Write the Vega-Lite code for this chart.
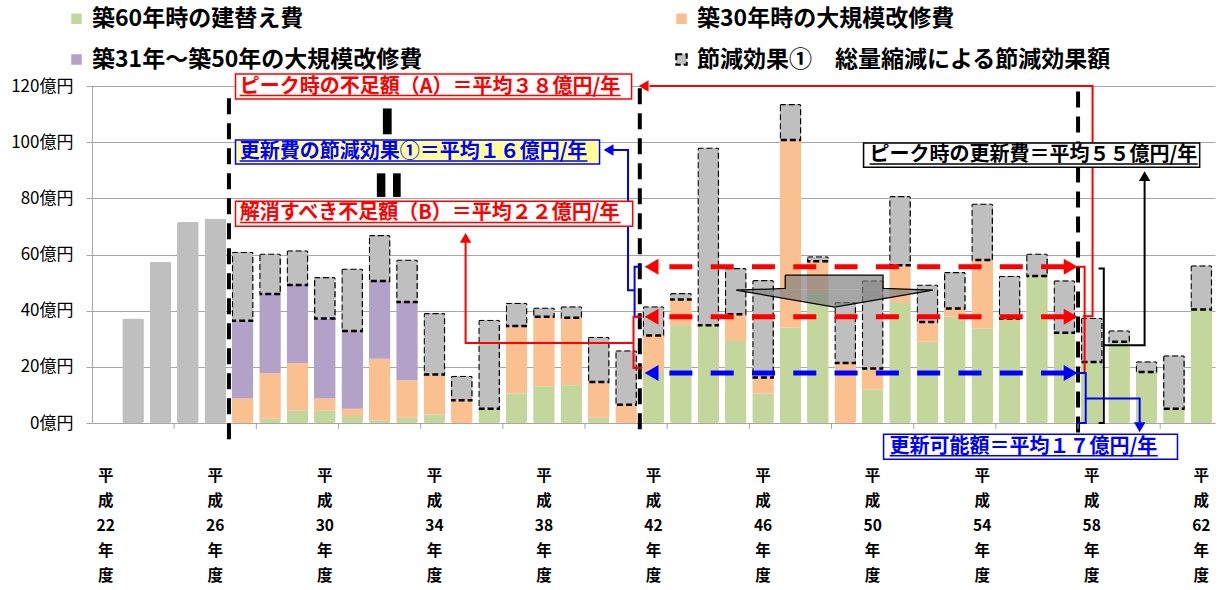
{
  "$schema": "https://vega.github.io/schema/vega-lite/v6.json",
  "width": 1123,
  "height": 337,
  "autosize": {"type": "none"},
  "padding": {"left": 92, "top": 86, "right": 7, "bottom": 167},
  "background": "white",
  "config": {
    "view": {"stroke": null},
    "font": "Noto Sans CJK JP",
    "axis": {"labelFont": "Noto Sans CJK JP"},
    "axisY": {"grid": true, "gridColor": "#a6a6a6", "domainColor": "#a6a6a6", "tickColor": "#a6a6a6", "tickSize": 6, "labelFontSize": 17, "labelColor": "#000000", "labelPadding": 13},
    "legend": {"labelFont": "Noto Sans CJK JP"}
  },
  "datasets": {
    "past": [
      {"year": 23, "v": 37.2}, {"year": 24, "v": 57.4}, {"year": 25, "v": 71.6}, {"year": 26, "v": 72.8}
    ],
    "bars": [
      {"year": 27, "series": "築30年時の大規模改修費", "k": 2, "v": 8.7},
      {"year": 27, "series": "築31年～築50年の大規模改修費", "k": 3, "v": 27.7},
      {"year": 27, "series": "節減効果①　総量縮減による節減効果額", "k": 4, "v": 24.6},
      {"year": 28, "series": "築60年時の建替え費", "k": 1, "v": 1.5},
      {"year": 28, "series": "築30年時の大規模改修費", "k": 2, "v": 16.3},
      {"year": 28, "series": "築31年～築50年の大規模改修費", "k": 3, "v": 28.1},
      {"year": 28, "series": "節減効果①　総量縮減による節減効果額", "k": 4, "v": 14.5},
      {"year": 29, "series": "築60年時の建替え費", "k": 1, "v": 4.5},
      {"year": 29, "series": "築30年時の大規模改修費", "k": 2, "v": 16.9},
      {"year": 29, "series": "築31年～築50年の大規模改修費", "k": 3, "v": 27.7},
      {"year": 29, "series": "節減効果①　総量縮減による節減効果額", "k": 4, "v": 12.4},
      {"year": 30, "series": "築60年時の建替え費", "k": 1, "v": 4.5},
      {"year": 30, "series": "築30年時の大規模改修費", "k": 2, "v": 4.2},
      {"year": 30, "series": "築31年～築50年の大規模改修費", "k": 3, "v": 28.5},
      {"year": 30, "series": "節減効果①　総量縮減による節減効果額", "k": 4, "v": 14.8},
      {"year": 31, "series": "築60年時の建替え費", "k": 1, "v": 2.5},
      {"year": 31, "series": "築30年時の大規模改修費", "k": 2, "v": 2.6},
      {"year": 31, "series": "築31年～築50年の大規模改修費", "k": 3, "v": 27.7},
      {"year": 31, "series": "節減効果①　総量縮減による節減効果額", "k": 4, "v": 22.2},
      {"year": 32, "series": "築60年時の建替え費", "k": 1, "v": 1.0},
      {"year": 32, "series": "築30年時の大規模改修費", "k": 2, "v": 21.9},
      {"year": 32, "series": "築31年～築50年の大規模改修費", "k": 3, "v": 27.7},
      {"year": 32, "series": "節減効果①　総量縮減による節減効果額", "k": 4, "v": 16.3},
      {"year": 33, "series": "築60年時の建替え費", "k": 1, "v": 1.9},
      {"year": 33, "series": "築30年時の大規模改修費", "k": 2, "v": 13.3},
      {"year": 33, "series": "築31年～築50年の大規模改修費", "k": 3, "v": 27.9},
      {"year": 33, "series": "節減効果①　総量縮減による節減効果額", "k": 4, "v": 15.1},
      {"year": 34, "series": "築60年時の建替え費", "k": 1, "v": 3.0},
      {"year": 34, "series": "築30年時の大規模改修費", "k": 2, "v": 14.3},
      {"year": 34, "series": "節減効果①　総量縮減による節減効果額", "k": 4, "v": 21.9},
      {"year": 35, "series": "築30年時の大規模改修費", "k": 2, "v": 8.1},
      {"year": 35, "series": "節減効果①　総量縮減による節減効果額", "k": 4, "v": 8.7},
      {"year": 36, "series": "築60年時の建替え費", "k": 1, "v": 5.1},
      {"year": 36, "series": "節減効果①　総量縮減による節減効果額", "k": 4, "v": 31.7},
      {"year": 37, "series": "築60年時の建替え費", "k": 1, "v": 10.5},
      {"year": 37, "series": "築30年時の大規模改修費", "k": 2, "v": 24.0},
      {"year": 37, "series": "節減効果①　総量縮減による節減効果額", "k": 4, "v": 8.3},
      {"year": 38, "series": "築60年時の建替え費", "k": 1, "v": 13.1},
      {"year": 38, "series": "築30年時の大規模改修費", "k": 2, "v": 24.7},
      {"year": 38, "series": "節減効果①　総量縮減による節減効果額", "k": 4, "v": 3.3},
      {"year": 39, "series": "築60年時の建替え費", "k": 1, "v": 13.4},
      {"year": 39, "series": "築30年時の大規模改修費", "k": 2, "v": 24.1},
      {"year": 39, "series": "節減効果①　総量縮減による節減効果額", "k": 4, "v": 4.1},
      {"year": 40, "series": "築60年時の建替え費", "k": 1, "v": 1.9},
      {"year": 40, "series": "築30年時の大規模改修費", "k": 2, "v": 12.7},
      {"year": 40, "series": "節減効果①　総量縮減による節減効果額", "k": 4, "v": 16.1},
      {"year": 41, "series": "築30年時の大規模改修費", "k": 2, "v": 6.5},
      {"year": 41, "series": "節減効果①　総量縮減による節減効果額", "k": 4, "v": 19.4},
      {"year": 42, "series": "築60年時の建替え費", "k": 1, "v": 18.2},
      {"year": 42, "series": "築30年時の大規模改修費", "k": 2, "v": 13.0},
      {"year": 42, "series": "節減効果①　総量縮減による節減効果額", "k": 4, "v": 10.4},
      {"year": 43, "series": "築60年時の建替え費", "k": 1, "v": 34.8},
      {"year": 43, "series": "築30年時の大規模改修費", "k": 2, "v": 9.2},
      {"year": 43, "series": "節減効果①　総量縮減による節減効果額", "k": 4, "v": 2.3},
      {"year": 44, "series": "築60年時の建替え費", "k": 1, "v": 34.8},
      {"year": 44, "series": "節減効果①　総量縮減による節減効果額", "k": 4, "v": 63.3},
      {"year": 45, "series": "築60年時の建替え費", "k": 1, "v": 29.2},
      {"year": 45, "series": "築30年時の大規模改修費", "k": 2, "v": 9.5},
      {"year": 45, "series": "節減効果①　総量縮減による節減効果額", "k": 4, "v": 16.5},
      {"year": 46, "series": "築60年時の建替え費", "k": 1, "v": 10.5},
      {"year": 46, "series": "築30年時の大規模改修費", "k": 2, "v": 5.7},
      {"year": 46, "series": "節減効果①　総量縮減による節減効果額", "k": 4, "v": 34.7},
      {"year": 47, "series": "築60年時の建替え費", "k": 1, "v": 34.0},
      {"year": 47, "series": "築30年時の大規模改修費", "k": 2, "v": 66.8},
      {"year": 47, "series": "節減効果①　総量縮減による節減効果額", "k": 4, "v": 12.8},
      {"year": 48, "series": "築60年時の建替え費", "k": 1, "v": 46.7},
      {"year": 48, "series": "築30年時の大規模改修費", "k": 2, "v": 10.9},
      {"year": 48, "series": "節減効果①　総量縮減による節減効果額", "k": 4, "v": 1.8},
      {"year": 49, "series": "築30年時の大規模改修費", "k": 2, "v": 21.4},
      {"year": 49, "series": "節減効果①　総量縮減による節減効果額", "k": 4, "v": 21.7},
      {"year": 50, "series": "築60年時の建替え費", "k": 1, "v": 11.9},
      {"year": 50, "series": "築30年時の大規模改修費", "k": 2, "v": 7.5},
      {"year": 50, "series": "節減効果①　総量縮減による節減効果額", "k": 4, "v": 31.4},
      {"year": 51, "series": "築60年時の建替え費", "k": 1, "v": 43.1},
      {"year": 51, "series": "築30年時の大規模改修費", "k": 2, "v": 13.1},
      {"year": 51, "series": "節減効果①　総量縮減による節減効果額", "k": 4, "v": 24.6},
      {"year": 52, "series": "築60年時の建替え費", "k": 1, "v": 28.9},
      {"year": 52, "series": "築30年時の大規模改修費", "k": 2, "v": 7.1},
      {"year": 52, "series": "節減効果①　総量縮減による節減効果額", "k": 4, "v": 13.3},
      {"year": 53, "series": "築60年時の建替え費", "k": 1, "v": 37.8},
      {"year": 53, "series": "築30年時の大規模改修費", "k": 2, "v": 3.0},
      {"year": 53, "series": "節減効果①　総量縮減による節減効果額", "k": 4, "v": 13.0},
      {"year": 54, "series": "築60年時の建替え費", "k": 1, "v": 33.6},
      {"year": 54, "series": "築30年時の大規模改修費", "k": 2, "v": 24.4},
      {"year": 54, "series": "節減効果①　総量縮減による節減効果額", "k": 4, "v": 20.2},
      {"year": 55, "series": "築60年時の建替え費", "k": 1, "v": 37.2},
      {"year": 55, "series": "節減効果①　総量縮減による節減効果額", "k": 4, "v": 15.2},
      {"year": 56, "series": "築60年時の建替え費", "k": 1, "v": 52.3},
      {"year": 56, "series": "節減効果①　総量縮減による節減効果額", "k": 4, "v": 8.1},
      {"year": 57, "series": "築60年時の建替え費", "k": 1, "v": 32.1},
      {"year": 57, "series": "節減効果①　総量縮減による節減効果額", "k": 4, "v": 18.7},
      {"year": 58, "series": "築60年時の建替え費", "k": 1, "v": 21.7},
      {"year": 58, "series": "節減効果①　総量縮減による節減効果額", "k": 4, "v": 15.8},
      {"year": 59, "series": "築60年時の建替え費", "k": 1, "v": 28.9},
      {"year": 59, "series": "節減効果①　総量縮減による節減効果額", "k": 4, "v": 4.1},
      {"year": 60, "series": "築60年時の建替え費", "k": 1, "v": 18.2},
      {"year": 60, "series": "節減効果①　総量縮減による節減効果額", "k": 4, "v": 3.8},
      {"year": 61, "series": "築60年時の建替え費", "k": 1, "v": 5.1},
      {"year": 61, "series": "節減効果①　総量縮減による節減効果額", "k": 4, "v": 19.0},
      {"year": 62, "series": "築60年時の建替え費", "k": 1, "v": 40.4},
      {"year": 62, "series": "節減効果①　総量縮減による節減効果額", "k": 4, "v": 15.8}
    ],
    "tri": [
      {"px": 45.02, "v": 47.6, "v2": 47.3},
      {"px": 48.61, "v": 47.6, "v2": 41.3},
      {"px": 52.2, "v": 47.6, "v2": 47.3}
    ],
    "calloutRect": [{"px": 46.81, "px2": 50.38, "v": 52.64, "v2": 47.6}],
    "outline": [
      {"i": 0, "px": 46.81, "v": 52.64}, {"i": 1, "px": 50.38, "v": 52.64},
      {"i": 2, "px": 50.38, "v": 47.9}, {"i": 3, "px": 52.2, "v": 47.3},
      {"i": 4, "px": 48.61, "v": 41.3}, {"i": 5, "px": 45.02, "v": 47.3},
      {"i": 6, "px": 46.81, "v": 47.9}, {"i": 7, "px": 46.81, "v": 52.64}
    ],
    "vlines": [
      {"px": 26.5, "v": 115.6, "v2": -7.2},
      {"px": 41.5, "v": 119.2, "v2": -4.4},
      {"px": 57.5, "v": 118.0, "v2": -3.7}
    ],
    "ticks": [
      {"px": 24.5}, {"px": 27.5}, {"px": 30.5}, {"px": 33.5}, {"px": 36.5}, {"px": 39.5}, {"px": 42.5},
      {"px": 45.5}, {"px": 48.5}, {"px": 51.5}, {"px": 54.5}, {"px": 57.5}, {"px": 60.5}
    ],
    "hlines": [
      {"g": "A", "px": 41.93, "px2": 57.23, "v": 55.6},
      {"g": "B", "px": 41.93, "px2": 57.23, "v": 37.8},
      {"g": "V", "px": 41.93, "px2": 57.23, "v": 17.8}
    ],
    "bigArrows": [
      {"g": "A", "dir": "left", "px": 41.93, "v": 55.6}, {"g": "A", "dir": "right", "px": 57.23, "v": 55.6},
      {"g": "B", "dir": "left", "px": 41.93, "v": 37.8}, {"g": "B", "dir": "right", "px": 57.23, "v": 37.8},
      {"g": "V", "dir": "left", "px": 41.93, "v": 17.8}, {"g": "V", "dir": "right", "px": 57.23, "v": 17.8}
    ],
    "smallArrows": [
      {"g": "A", "dir": "left", "px": 41.64, "v": 120.0},
      {"g": "S", "dir": "left", "px": 40.36, "v": 97.2},
      {"g": "B", "dir": "up", "px": 35.14, "v": 65.9},
      {"g": "P", "dir": "up", "px": 59.93, "v": 87.9},
      {"g": "V", "dir": "down", "px": 59.75, "v": -1.5}
    ],
    "connectors": [
      {"path": "a1", "g": "A", "i": 0, "px": 41.86, "v": 120.0},
      {"path": "a1", "g": "A", "i": 1, "px": 58.03, "v": 120.0},
      {"path": "a1", "g": "A", "i": 2, "px": 58.03, "v": 38.0},
      {"path": "a1", "g": "A", "i": 3, "px": 57.67, "v": 38.0},
      {"path": "a2", "g": "A", "i": 0, "px": 57.45, "v": 55.6},
      {"path": "a2", "g": "A", "i": 1, "px": 57.74, "v": 55.6},
      {"path": "a2", "g": "A", "i": 2, "px": 57.74, "v": 17.8},
      {"path": "a2", "g": "A", "i": 3, "px": 57.45, "v": 17.8},
      {"path": "s1", "g": "S", "i": 0, "px": 41.55, "v": 55.6},
      {"path": "s1", "g": "S", "i": 1, "px": 41.31, "v": 55.6},
      {"path": "s1", "g": "S", "i": 2, "px": 41.31, "v": 37.8},
      {"path": "s1", "g": "S", "i": 3, "px": 41.55, "v": 37.8},
      {"path": "s2", "g": "S", "i": 0, "px": 41.31, "v": 47.3},
      {"path": "s2", "g": "S", "i": 1, "px": 41.07, "v": 47.3},
      {"path": "s2", "g": "S", "i": 2, "px": 41.07, "v": 97.2},
      {"path": "s2", "g": "S", "i": 3, "px": 40.5, "v": 97.2},
      {"path": "b1", "g": "B", "i": 0, "px": 41.59, "v": 37.8},
      {"path": "b1", "g": "B", "i": 1, "px": 41.27, "v": 37.8},
      {"path": "b1", "g": "B", "i": 2, "px": 41.27, "v": 19.6},
      {"path": "b1", "g": "B", "i": 3, "px": 41.59, "v": 19.6},
      {"path": "b2", "g": "B", "i": 0, "px": 41.27, "v": 28.5},
      {"path": "b2", "g": "B", "i": 1, "px": 35.14, "v": 28.5},
      {"path": "b2", "g": "B", "i": 2, "px": 35.14, "v": 65.0},
      {"path": "p1", "g": "P", "i": 0, "px": 58.25, "v": 55.0},
      {"path": "p1", "g": "P", "i": 1, "px": 58.44, "v": 55.0},
      {"path": "p1", "g": "P", "i": 2, "px": 58.44, "v": 0.0},
      {"path": "p1", "g": "P", "i": 3, "px": 58.25, "v": 0.0},
      {"path": "p2", "g": "P", "i": 0, "px": 58.44, "v": 27.7},
      {"path": "p2", "g": "P", "i": 1, "px": 59.93, "v": 27.7},
      {"path": "p2", "g": "P", "i": 2, "px": 59.93, "v": 87.0},
      {"path": "v1", "g": "V", "i": 0, "px": 57.45, "v": 17.8},
      {"path": "v1", "g": "V", "i": 1, "px": 57.78, "v": 17.8},
      {"path": "v1", "g": "V", "i": 2, "px": 57.78, "v": 0.0},
      {"path": "v1", "g": "V", "i": 3, "px": 57.45, "v": 0.0},
      {"path": "v2", "g": "V", "i": 0, "px": 57.78, "v": 8.7},
      {"path": "v2", "g": "V", "i": 1, "px": 59.75, "v": 8.7},
      {"path": "v2", "g": "V", "i": 2, "px": 59.75, "v": -1.0}
    ],
    "signs": [
      {"px": 32.12, "px2": 32.44, "v": 112.0, "v2": 102.8},
      {"px": 31.9, "px2": 32.21, "v": 88.9, "v2": 80.5},
      {"px": 32.49, "px2": 32.77, "v": 88.9, "v2": 80.5}
    ],
    "boxes": [
      {"g": "A", "px": 26.74, "px2": 41.2, "v": 124.3, "v2": 115.4},
      {"g": "S", "px": 26.74, "px2": 40.03, "v": 100.8, "v2": 92.2},
      {"g": "B", "px": 26.74, "px2": 41.24, "v": 79.0, "v2": 70.1},
      {"g": "P", "px": 49.67, "px2": 61.94, "v": 99.7, "v2": 91.1},
      {"g": "V", "px": 50.4, "px2": 61.13, "v": -4.0, "v2": -12.9}
    ],
    "texts": [
      {"g": "A", "t": "ピーク時の不足額（A）＝平均３８億円/年", "px": 26.89, "v": 119.8, "px2": 40.8, "uv": 116.6},
      {"g": "S", "t": "更新費の節減効果①＝平均１６億円/年", "px": 26.89, "v": 96.5, "px2": 39.59, "uv": 93.3},
      {"g": "B", "t": "解消すべき不足額（B）＝平均２２億円/年", "px": 26.89, "v": 74.6, "px2": 40.8, "uv": 71.4},
      {"g": "P", "t": "ピーク時の更新費＝平均５５億円/年", "px": 49.89, "v": 95.4, "px2": 61.87, "uv": 92.2},
      {"g": "V", "t": "更新可能額＝平均１７億円/年", "px": 50.62, "v": -8.5, "px2": 60.41, "uv": -11.7}
    ]
  },
  "layer": [
    {
      "data": {"name": "past"},
      "mark": {"type": "bar", "color": "#bfbfbf", "cornerRadius": 2},
      "encoding": {
        "x": {
          "field": "year", "type": "ordinal",
          "scale": {"domain": [22,23,24,25,26,27,28,29,30,31,32,33,34,35,36,37,38,39,40,41,42,43,44,45,46,47,48,49,50,51,52,53,54,55,56,57,58,59,60,61,62], "paddingInner": 0.21, "paddingOuter": 0.105},
          "axis": {
            "title": null, "ticks": false, "domain": false, "grid": false, "labelAngle": 0,
            "labelExpr": "(datum.value - 22) % 4 == 0 ? ['平', '成', datum.label, '年', '度'] : ''",
            "labelFontSize": 15.5, "labelFontWeight": "bold", "labelColor": "#000000",
            "labelLineHeight": 25, "labelPadding": 45, "labelOverlap": false, "labelBaseline": "top"
          }
        },
        "y": {
          "field": "v", "type": "quantitative", "title": null,
          "scale": {"domain": [0, 120], "nice": false},
          "axis": {
            "title": null, "values": [0, 20, 40, 60, 80, 100, 120],
            "labelExpr": "datum.value + '億円'",
            "labelFontSize": 17, "labelColor": "#000000", "labelPadding": 13,
            "grid": true, "gridColor": "#a6a6a6", "gridWidth": 1,
            "domain": true, "domainColor": "#a6a6a6", "ticks": true, "tickColor": "#a6a6a6", "tickSize": 6
          }
        }
      }
    },
    {
      "data": {"name": "bars"},
      "mark": {"type": "bar", "strokeWidth": 2.5, "cornerRadius": 2},
      "encoding": {
        "x": {
          "field": "year", "type": "ordinal",
          "scale": {"domain": [22,23,24,25,26,27,28,29,30,31,32,33,34,35,36,37,38,39,40,41,42,43,44,45,46,47,48,49,50,51,52,53,54,55,56,57,58,59,60,61,62], "paddingInner": 0.21, "paddingOuter": 0.105},
          "axis": null
        },
        "y": {"field": "v", "type": "quantitative", "title": null, "stack": "zero", "scale": {"domain": [0, 120], "nice": false}},
        "order": {"field": "k", "type": "quantitative"},
        "color": {
          "field": "series", "type": "nominal", "title": null,
          "scale": {"domain": ["築60年時の建替え費", "築30年時の大規模改修費", "築31年～築50年の大規模改修費", "節減効果①　総量縮減による節減効果額"], "range": ["#c3d69b", "#fac090", "#b3a2c7", "#bfbfbf"]},
          "legend": {"orient": "none", "direction": "horizontal", "legendX": -27, "legendY": -79, "columns": 2, "columnPadding": 247, "rowPadding": 17, "labelFontSize": 23, "labelFontWeight": "bold", "labelColor": "#000000", "labelLimit": 700, "symbolType": "square", "symbolSize": 110, "symbolStrokeWidth": 2, "labelOffset": 4, "padding": 0}
        },
        "stroke": {
          "field": "series", "type": "nominal", "title": null,
          "scale": {"domain": ["築60年時の建替え費", "築30年時の大規模改修費", "築31年～築50年の大規模改修費", "節減効果①　総量縮減による節減効果額"], "range": ["rgba(0,0,0,0)", "rgba(0,0,0,0)", "rgba(0,0,0,0)", "#000000"]},
          "legend": {"orient": "none", "direction": "horizontal", "legendX": -27, "legendY": -79, "columns": 2, "columnPadding": 247, "rowPadding": 17, "labelFontSize": 23, "labelFontWeight": "bold", "labelColor": "#000000", "labelLimit": 700, "symbolType": "square", "symbolSize": 110, "symbolStrokeWidth": 2, "labelOffset": 4, "padding": 0}
        },
        "strokeDash": {
          "field": "series", "type": "nominal", "title": null,
          "scale": {"domain": ["築60年時の建替え費", "築30年時の大規模改修費", "築31年～築50年の大規模改修費", "節減効果①　総量縮減による節減効果額"], "range": [[1, 0], [1, 0], [1, 0], [6, 3]]},
          "legend": {"orient": "none", "direction": "horizontal", "legendX": -27, "legendY": -79, "columns": 2, "columnPadding": 247, "rowPadding": 17, "labelFontSize": 23, "labelFontWeight": "bold", "labelColor": "#000000", "labelLimit": 700, "symbolType": "square", "symbolSize": 110, "symbolStrokeWidth": 2, "labelOffset": 4, "padding": 0}
        }
      }
    },
    {
      "data": {"name": "tri"},
      "mark": {"type": "area", "color": "#808080", "opacity": 0.7},
      "encoding": {
        "x": {"field": "px", "type": "quantitative", "scale": {"domain": [21.5, 62.5], "nice": false, "zero": false}, "axis": null},
        "y": {"field": "v", "type": "quantitative", "title": null, "scale": {"domain": [0, 120], "nice": false}},
        "y2": {"field": "v2"}
      }
    },
    {
      "data": {"name": "calloutRect"},
      "mark": {"type": "rect", "color": "#808080", "opacity": 0.7},
      "encoding": {
        "x": {"field": "px", "type": "quantitative", "scale": {"domain": [21.5, 62.5], "nice": false, "zero": false}, "axis": null},
        "x2": {"field": "px2"},
        "y": {"field": "v", "type": "quantitative", "title": null, "scale": {"domain": [0, 120], "nice": false}},
        "y2": {"field": "v2"}
      }
    },
    {
      "data": {"name": "outline"},
      "mark": {"type": "line", "color": "#000000", "strokeWidth": 1.3},
      "encoding": {
        "x": {"field": "px", "type": "quantitative", "scale": {"domain": [21.5, 62.5], "nice": false, "zero": false}, "axis": null},
        "y": {"field": "v", "type": "quantitative", "title": null, "scale": {"domain": [0, 120], "nice": false}},
        "order": {"field": "i", "type": "quantitative"}
      }
    },
    {
      "data": {"name": "vlines"},
      "mark": {"type": "rule", "color": "#000000", "strokeWidth": 4, "strokeDash": [16, 9]},
      "encoding": {
        "x": {"field": "px", "type": "quantitative", "scale": {"domain": [21.5, 62.5], "nice": false, "zero": false}, "axis": null},
        "y": {"field": "v", "type": "quantitative", "title": null, "scale": {"domain": [0, 120], "nice": false}},
        "y2": {"field": "v2"}
      }
    },
    {
      "data": {"name": "ticks"},
      "mark": {"type": "rule", "color": "#a6a6a6", "strokeWidth": 1},
      "encoding": {
        "x": {"field": "px", "type": "quantitative", "scale": {"domain": [21.5, 62.5], "nice": false, "zero": false}, "axis": null},
        "y": {"datum": 0, "type": "quantitative", "title": null, "scale": {"domain": [0, 120], "nice": false}},
        "y2": {"datum": -2.1}
      }
    },
    {
      "data": {"name": "hlines"},
      "mark": {"type": "rule", "strokeWidth": 5, "strokeDash": [23, 18.3], "strokeDashOffset": 23.5},
      "encoding": {
        "x": {"field": "px", "type": "quantitative", "scale": {"domain": [21.5, 62.5], "nice": false, "zero": false}, "axis": null},
        "x2": {"field": "px2"},
        "y": {"field": "v", "type": "quantitative", "title": null, "scale": {"domain": [0, 120], "nice": false}},
        "color": {"field": "g", "type": "nominal", "scale": {"domain": ["A", "S", "B", "P", "V"], "range": ["#ff0000", "#0000ff", "#ff0000", "#000000", "#0000ff"]}, "legend": null}
      }
    },
    {
      "data": {"name": "connectors"},
      "mark": {"type": "line", "strokeWidth": 2},
      "encoding": {
        "x": {"field": "px", "type": "quantitative", "scale": {"domain": [21.5, 62.5], "nice": false, "zero": false}, "axis": null},
        "y": {"field": "v", "type": "quantitative", "title": null, "scale": {"domain": [0, 120], "nice": false}},
        "detail": {"field": "path", "type": "nominal"},
        "order": {"field": "i", "type": "quantitative"},
        "color": {"field": "g", "type": "nominal", "scale": {"domain": ["A", "S", "B", "P", "V"], "range": ["#ff0000", "#0000ff", "#ff0000", "#000000", "#0000ff"]}, "legend": null}
      }
    },
    {
      "data": {"name": "bigArrows"},
      "mark": {"type": "point", "filled": true, "size": 256, "opacity": 1},
      "encoding": {
        "x": {"field": "px", "type": "quantitative", "scale": {"domain": [21.5, 62.5], "nice": false, "zero": false}, "axis": null},
        "y": {"field": "v", "type": "quantitative", "title": null, "scale": {"domain": [0, 120], "nice": false}},
        "shape": {"field": "dir", "type": "nominal", "scale": {"domain": ["left", "right", "up", "down"], "range": ["triangle-left", "triangle-right", "triangle-up", "triangle-down"]}, "legend": null},
        "color": {"field": "g", "type": "nominal", "scale": {"domain": ["A", "S", "B", "P", "V"], "range": ["#ff0000", "#0000ff", "#ff0000", "#000000", "#0000ff"]}, "legend": null}
      }
    },
    {
      "data": {"name": "smallArrows"},
      "mark": {"type": "point", "filled": true, "size": 130, "opacity": 1},
      "encoding": {
        "x": {"field": "px", "type": "quantitative", "scale": {"domain": [21.5, 62.5], "nice": false, "zero": false}, "axis": null},
        "y": {"field": "v", "type": "quantitative", "title": null, "scale": {"domain": [0, 120], "nice": false}},
        "shape": {"field": "dir", "type": "nominal", "scale": {"domain": ["left", "right", "up", "down"], "range": ["triangle-left", "triangle-right", "triangle-up", "triangle-down"]}, "legend": null},
        "color": {"field": "g", "type": "nominal", "scale": {"domain": ["A", "S", "B", "P", "V"], "range": ["#ff0000", "#0000ff", "#ff0000", "#000000", "#0000ff"]}, "legend": null}
      }
    },
    {
      "data": {"name": "signs"},
      "mark": {"type": "rect", "color": "#000000"},
      "encoding": {
        "x": {"field": "px", "type": "quantitative", "scale": {"domain": [21.5, 62.5], "nice": false, "zero": false}, "axis": null},
        "x2": {"field": "px2"},
        "y": {"field": "v", "type": "quantitative", "title": null, "scale": {"domain": [0, 120], "nice": false}},
        "y2": {"field": "v2"}
      }
    },
    {
      "data": {"name": "boxes"},
      "mark": {"type": "rect", "strokeWidth": 1.5},
      "encoding": {
        "x": {"field": "px", "type": "quantitative", "scale": {"domain": [21.5, 62.5], "nice": false, "zero": false}, "axis": null},
        "x2": {"field": "px2"},
        "y": {"field": "v", "type": "quantitative", "title": null, "scale": {"domain": [0, 120], "nice": false}},
        "y2": {"field": "v2"},
        "fill": {"field": "g", "type": "nominal", "scale": {"domain": ["A", "S", "B", "P", "V"], "range": ["#ffffff", "#ffff99", "#ffffff", "#ffffff", "#ffffff"]}, "legend": null},
        "stroke": {"field": "g", "type": "nominal", "scale": {"domain": ["A", "S", "B", "P", "V"], "range": ["#ff0000", "#0000ff", "#ff0000", "#000000", "#0000ff"]}, "legend": null}
      }
    },
    {
      "data": {"name": "texts"},
      "mark": {"type": "text", "align": "left", "baseline": "middle", "fontSize": 20, "fontWeight": "bold", "font": "Noto Sans CJK JP"},
      "encoding": {
        "x": {"field": "px", "type": "quantitative", "scale": {"domain": [21.5, 62.5], "nice": false, "zero": false}, "axis": null},
        "y": {"field": "v", "type": "quantitative", "title": null, "scale": {"domain": [0, 120], "nice": false}},
        "text": {"field": "t"},
        "color": {"field": "g", "type": "nominal", "scale": {"domain": ["A", "S", "B", "P", "V"], "range": ["#ff0000", "#0000ff", "#ff0000", "#000000", "#0000ff"]}, "legend": null}
      }
    },
    {
      "data": {"name": "texts"},
      "mark": {"type": "rule", "strokeWidth": 1.5},
      "encoding": {
        "x": {"field": "px", "type": "quantitative", "scale": {"domain": [21.5, 62.5], "nice": false, "zero": false}, "axis": null},
        "x2": {"field": "px2"},
        "y": {"field": "uv", "type": "quantitative", "title": null, "scale": {"domain": [0, 120], "nice": false}},
        "color": {"field": "g", "type": "nominal", "scale": {"domain": ["A", "S", "B", "P", "V"], "range": ["#ff0000", "#0000ff", "#ff0000", "#000000", "#0000ff"]}, "legend": null}
      }
    }
  ],
  "resolve": {"scale": {"x": "independent", "color": "independent", "fill": "independent", "stroke": "independent", "strokeDash": "independent", "shape": "independent"}}
}
